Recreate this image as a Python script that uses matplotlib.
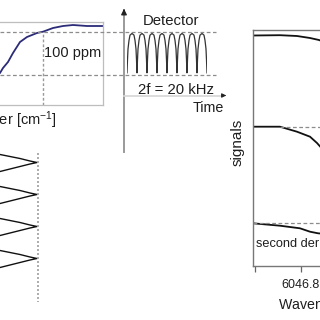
import numpy as np
import matplotlib.pyplot as plt

plt.rcParams['font.family'] = ['Liberation Sans', 'DejaVu Sans']
plt.rcParams['mathtext.fontset'] = 'custom'
plt.rcParams['mathtext.rm'] = 'Liberation Sans'
plt.rcParams['mathtext.it'] = 'Liberation Sans:italic'

W = H = 320
TXT = '#1e1e1e'
GUIDE = '#8c8c8c'

# absorption line, top left (arb. wavenumber vs absorbance)
abs_wn = [-5, 0, 3, 8, 13, 20, 27, 37, 43, 53, 63, 73, 87, 103]
abs_val = [29, 32, 37, 43, 52, 63, 68, 72, 73.3, 77, 79, 80, 79, 79]
wn_center = 43
abs_top = 73.3

# laser modulation lobes, bottom left
lobe_tips = [22.5, 54.5, 86.5, 118.5]
lobe_dx = [-3, 0, 10, 20, 30, 37, 30, 20, 10, 0, -3]
lobe_dy = [-8.7, -8, -6, -4, -1.5, 0, 1.5, 4, 6.5, 9, 9.7]

# detector signal (one period, repeated)
det_phase = [0, 0.05, 0.1, 0.2, 0.3, 0.5, 0.7, 0.8, 0.9, 0.95, 1.0]
det_val = [0.05, 0.35, 0.6, 0.8, 0.92, 0.96, 0.92, 0.8, 0.6, 0.35, 0.05]
n_cycles = 8

# signals vs wavenumber, right panel
top_wn = [6046.6957, 6046.7543, 6046.7913, 6046.8196, 6046.8391, 6046.8674]
top_sig = [230.5, 230.8, 230, 228, 226, 221]
mid_wn = [6046.6957, 6046.7543, 6046.7913, 6046.8196, 6046.8348, 6046.8522]
mid_sig = [139.3, 139.3, 134.3, 129.3, 123, 114]
bot_wn = [6046.6957, 6046.7543, 6046.7978, 6046.8196, 6046.8370, 6046.8543]
bot_sig = [42.7, 40.3, 37.7, 34.3, 32.7, 32]
mid_ref = 139.5
bot_ref = 43.3


def px_axes(x0, y0, x1, y1):
    ax = fig.add_axes([x0 / W, 1 - y1 / H, (x1 - x0) / W, (y1 - y0) / H])
    ax.patch.set_alpha(0)
    return ax


fig = plt.figure(figsize=(3.2, 3.2), dpi=100)

# top left panel
ax1 = px_axes(-100, 22, 103, 105)
ax1.plot(abs_wn, abs_val, color='#2b2b78', lw=1.3)
ax1.vlines(wn_center, 0, abs_top, colors='#999999', lw=1.0, linestyles=(0, (2, 1.5)))
ax1.set_xlim(-100, 103)
ax1.set_ylim(0, 83)
ax1.set_xticks([])
ax1.set_yticks([])
for s in ax1.spines.values():
    s.set_color('#bdbdbd')
    s.set_linewidth(0.9)

# bottom left lobes
ax2 = px_axes(0, 140, 60, 310)
for tip in lobe_tips:
    ax2.plot(lobe_dx, np.add(tip, lobe_dy), color='#111111', lw=1.0)
ax2.vlines(37.5, 13, 162, colors='#a0a0a0', lw=1.2, linestyles=(0, (1.2, 1.2)))
ax2.set_xlim(0, 60)
ax2.set_ylim(170, 0)
ax2.axis('off')

# detector trace
ax3 = px_axes(127, 31.7, 207, 75)
t = np.concatenate([k + np.array(det_phase) for k in range(n_cycles)])
ax3.plot(t, np.tile(det_val, n_cycles), color='#333333', lw=0.9)
ax3.set_xlim(0, n_cycles)
ax3.set_ylim(0, 1)
ax3.axis('off')

# right panel
ax4 = px_axes(253, 30, 450, 266)
for wn, sig in [(top_wn, top_sig), (mid_wn, mid_sig), (bot_wn, bot_sig)]:
    ax4.plot(wn, sig, color='#111111', lw=1.3)
ax4.hlines(mid_ref, 6046.7543, 6047.12, colors=GUIDE, lw=0.9, linestyles=(0, (3, 2)))
ax4.hlines(bot_ref, 6046.6957, 6047.12, colors=GUIDE, lw=0.9, linestyles=(0, (3, 2)))
ax4.set_xlim(6046.6957, 6047.1239)
ax4.set_ylim(0, 236)
ax4.set_yticks([])
ax4.set_xticks([6046.8])
ax4.set_xticklabels(['6046.8'])
ax4.set_xticks([6046.7, 6046.9], minor=True)
ax4.tick_params(axis='x', which='both', direction='out', length=4, width=0.9,
                color='#666666', pad=5, labelsize=9, labelcolor=TXT)
for s in ax4.spines.values():
    s.set_color('#777777')
    s.set_linewidth(1.0)

# overlay for guides, arrows and text
ov = fig.add_axes([0, 0, 1, 1])
ov.patch.set_alpha(0)
ov.set_xlim(0, W)
ov.set_ylim(H, 0)
ov.axis('off')

for y in (31.7, 75):
    ov.plot([0, 216], [y, y], color=GUIDE, lw=0.9, ls=(0, (3, 2)))

ov.plot([124, 124], [152, 12], color='#9a9a9a', lw=1.4)
ov.annotate('', xy=(124, 6), xytext=(124, 14),
            arrowprops=dict(arrowstyle='-|>', color='#222222', lw=1.0, mutation_scale=8))
ov.plot([124, 222], [95.5, 95.5], color='#d6d6d6', lw=1.2)
ov.annotate('', xy=(229, 95.5), xytext=(221, 95.5),
            arrowprops=dict(arrowstyle='-|>', color='#222222', lw=0.8, mutation_scale=6))

ov.text(143, 25, 'Detector', fontsize=10.7, color=TXT, va='baseline')
ov.text(44.5, 56.5, '100 ppm', fontsize=10.5, color=TXT, va='baseline')
ov.text(138, 94.5, '2f = 20 kHz', fontsize=10.7, color=TXT, va='baseline')
ov.text(193, 111.5, 'Time', fontsize=10.3, color=TXT, va='baseline')
ov.text(57, 125, 'Wavenumber [cm$^{-1}$]', fontsize=10.5, color=TXT, va='baseline', ha='right')
ov.text(238, 142, 'signals', fontsize=11, color=TXT, rotation=90, ha='center', va='center')
ov.text(256, 247, 'second derivative', fontsize=9.2, color=TXT, va='baseline')
ov.text(278, 310.5, 'Wavenumber [cm$^{-1}$]', fontsize=10.2, color=TXT, va='baseline')

fig.savefig('out.png', dpi=100, facecolor='white')
